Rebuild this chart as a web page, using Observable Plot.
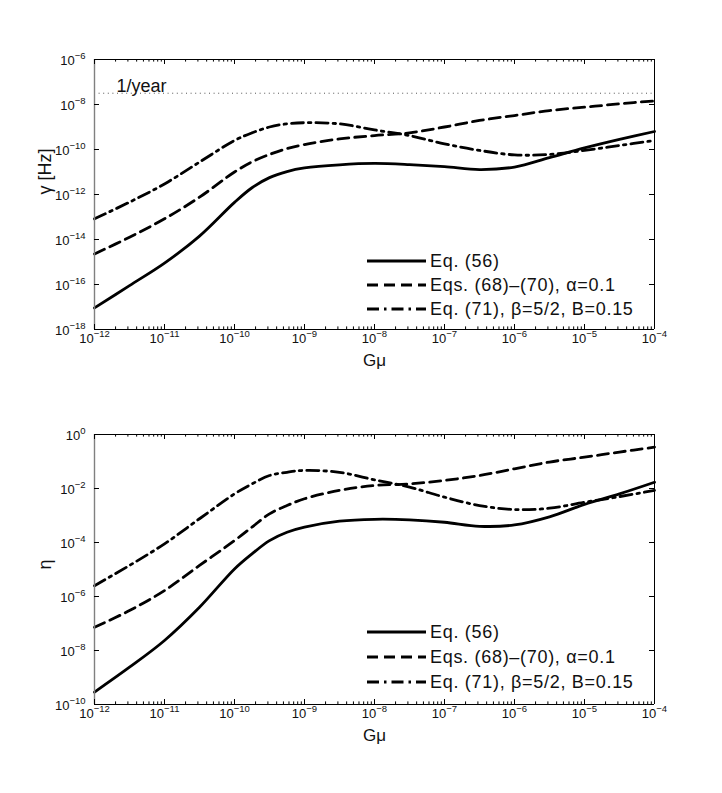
<!DOCTYPE html>
<html><head><meta charset="utf-8">
<script src="https://cdn.jsdelivr.net/npm/d3@7"></script>
<script src="https://cdn.jsdelivr.net/npm/@observablehq/plot@0.6"></script>
<style>
body{margin:0;background:#fff;font-family:"Liberation Sans",Arial,Helvetica,sans-serif;}
#wrap{width:722px;height:793px;overflow:hidden;}
#wrap svg{display:block}
</style></head><body><div id="wrap"></div>
<script>
// log10(Gμ) sample positions
const logGmu = [-12,-11.5,-11,-10.5,-10,-9.75,-9.5,-9.25,-9,-8.5,-8,-7.5,-7,-6.5,-6,-5.5,-5,-4.5,-4];
// log10(γ [Hz])
const logGammaEq56 = [-17.04,-16.05,-15.05,-13.85,-12.35,-11.7,-11.25,-10.98,-10.82,-10.68,-10.62,-10.67,-10.76,-10.89,-10.78,-10.36,-9.93,-9.55,-9.2];
const logGammaEq68 = [-14.64,-13.9,-13.08,-12.12,-11.0,-10.55,-10.22,-9.96,-9.78,-9.53,-9.38,-9.26,-9.0,-8.71,-8.49,-8.27,-8.12,-7.97,-7.84];
const logGammaEq71 = [-13.08,-12.34,-11.53,-10.56,-9.6,-9.26,-9.0,-8.86,-8.81,-8.86,-9.13,-9.38,-9.75,-10.04,-10.24,-10.22,-10.04,-9.82,-9.6];
// log10(η)
const logEtaEq56 = [-9.54,-8.62,-7.63,-6.4,-4.98,-4.42,-3.93,-3.62,-3.43,-3.21,-3.14,-3.16,-3.25,-3.40,-3.35,-3.05,-2.59,-2.2,-1.77];
const logEtaEq68 = [-7.14,-6.52,-5.78,-4.85,-3.93,-3.43,-2.94,-2.63,-2.38,-2.07,-1.89,-1.83,-1.7,-1.52,-1.27,-1.02,-0.84,-0.65,-0.47];
const logEtaEq71 = [-5.6,-4.85,-4.05,-3.12,-2.2,-1.83,-1.52,-1.4,-1.33,-1.4,-1.68,-1.95,-2.32,-2.63,-2.78,-2.73,-2.51,-2.3,-2.07];

const seriesNames = ["Eq. (56)", "Eqs. (68)\u2013(70), \u03b1=0.1", "Eq. (71), \u03b2=5/2, B=0.15"];
const seriesDash = [null, "11,6", "12,5,2.5,5"];
const xTickExps = [-12,-11,-10,-9,-8,-7,-6,-5,-4];
const gammaTickExps = [-18,-16,-14,-12,-10,-8,-6];
const etaTickExps = [-10,-8,-6,-4,-2,0];
const yearRate = 3.17e-8;   // 1/year in Hz
const yearLabel = "1/year";

const FONT = "Liberation Sans, Arial, Helvetica, sans-serif";
const expText = e => "10|" + (e < 0 ? "\u2212" + (-e) : String(e));

function makePanel(cfg) {
  const W = 722, mL = 94, mR = 68;
  const frameW = W - mL - mR;
  const frameH = cfg.height - cfg.marginTop - cfg.marginBottom;
  const rows = [];
  cfg.series.forEach((arr, si) => arr.forEach((v, i) =>
    rows.push({series: si, gmu: 10 ** logGmu[i], val: 10 ** v})));
  const majorX = xTickExps.map(e => 10 ** e);
  const minorX = [];
  for (let e = -12; e < -4; e++) for (let m = 2; m <= 9; m++) minorX.push(m * 10 ** e);
  const yTicks = cfg.yTickExps.map(e => 10 ** e);
  const yLo = 10 ** cfg.yTickExps[0], yHi = 10 ** cfg.yTickExps[cfg.yTickExps.length - 1];

  const marks = [];
  if (cfg.showYear) {
    marks.push(Plot.ruleY([yearRate], {stroke: "#555", strokeWidth: 1, strokeDasharray: "1,3.6"}));
    marks.push(Plot.text([{y: yearRate, t: yearLabel}], {y: "y", text: "t", frameAnchor: "left",
      dx: 22, dy: -1, textAnchor: "start", lineAnchor: "bottom", fontSize: 18, fill: "#111"}));
  }
  cfg.series.forEach((arr, si) => {
    marks.push(Plot.line(rows.filter(r => r.series === si), {x: "gmu", y: "val", stroke: "black",
      strokeWidth: 2.8, strokeDasharray: seriesDash[si], curve: "catmull-rom"}));
  });
  // frame
  marks.push(Plot.ruleY([yLo], {stroke: "black", strokeWidth: 1}));
  marks.push(Plot.ruleY([yHi], {stroke: "black", strokeWidth: 1}));
  marks.push(Plot.ruleX([1e-4], {stroke: "black", strokeWidth: 1}));
  marks.push(Plot.ruleX([1e-12], {stroke: "#808080", strokeWidth: 1.4}));
  // ticks (inward)
  marks.push(Plot.tickX(majorX, {x: d => d, insetTop: frameH - 5, stroke: "black"}));
  marks.push(Plot.tickX(majorX, {x: d => d, insetBottom: frameH - 5, stroke: "black"}));
  marks.push(Plot.tickX(minorX, {x: d => d, insetTop: frameH - 2.6, stroke: "black"}));
  marks.push(Plot.tickX(minorX, {x: d => d, insetBottom: frameH - 2.6, stroke: "black"}));
  marks.push(Plot.tickY(yTicks, {y: d => d, insetRight: frameW - 5, stroke: "black"}));
  marks.push(Plot.tickY(yTicks, {y: d => d, insetLeft: frameW - 5, stroke: "black"}));
  // tick labels
  marks.push(Plot.text(xTickExps, {x: e => 10 ** e, text: expText, frameAnchor: "bottom", dy: 13,
    fontSize: 13, fill: "#111"}));
  marks.push(Plot.text(cfg.yTickExps, {y: e => 10 ** e, text: expText, frameAnchor: "left", dx: -9, dy: 1,
    textAnchor: "end", fontSize: 13, fill: "#111"}));
  // axis titles
  marks.push(Plot.text([cfg.yLabel], {frameAnchor: "left", dx: -49, rotate: -90, fontSize: 18, fill: "#111"}));
  marks.push(Plot.text(["G\u03bc"], {frameAnchor: "bottom", dy: 36, fontSize: 17, fill: "#111"}));

  const plot = Plot.plot({
    width: W, height: cfg.height,
    marginLeft: mL, marginRight: mR, marginTop: cfg.marginTop, marginBottom: cfg.marginBottom,
    x: {type: "log", domain: [1e-12, 1e-4], axis: null},
    y: {type: "log", domain: [yLo, yHi], axis: null},
    style: {fontFamily: FONT, background: "white", color: "black", overflow: "visible"},
    marks
  });

  // superscript exponents
  d3.select(plot).selectAll("text").each(function () {
    const t = this.textContent;
    if (!t.includes("|")) return;
    const [base, exp] = t.split("|");
    const sel = d3.select(this);
    sel.text(null);
    sel.append("tspan").text(base);
    sel.append("tspan").attr("dy", "-0.6em").attr("font-size", "9.5px").text(exp);
  });

  // legend (lower right, no box)
  const fb = cfg.height - cfg.marginBottom;
  const lg = d3.select(plot).append("g").attr("font-family", FONT).attr("text-anchor", "start");
  cfg.legendRows.forEach((off, i) => {
    const y = fb + off;
    lg.append("line").attr("x1", 367).attr("x2", 426).attr("y1", y).attr("y2", y)
      .attr("stroke", "black").attr("stroke-width", 2.8)
      .attr("stroke-dasharray", seriesDash[i]);
    lg.append("text").attr("x", 430).attr("y", y).attr("dy", "0.35em").attr("text-anchor", "start")
      .attr("font-size", 18).attr("letter-spacing", "0.7px").attr("fill", "#111").text(seriesNames[i]);
  });
  return plot;
}

const wrap = document.getElementById("wrap");
wrap.appendChild(makePanel({
  height: 390, marginTop: 59, marginBottom: 61,
  series: [logGammaEq56, logGammaEq68, logGammaEq71],
  yTickExps: gammaTickExps, yLabel: "\u03b3 [Hz]", showYear: true,
  legendRows: [-68, -44, -20]
}));
wrap.appendChild(makePanel({
  height: 403, marginTop: 44, marginBottom: 89,
  series: [logEtaEq56, logEtaEq68, logEtaEq71],
  yTickExps: etaTickExps, yLabel: "\u03b7", showYear: false,
  legendRows: [-72, -47, -22]
}));
</script>
</body></html>
